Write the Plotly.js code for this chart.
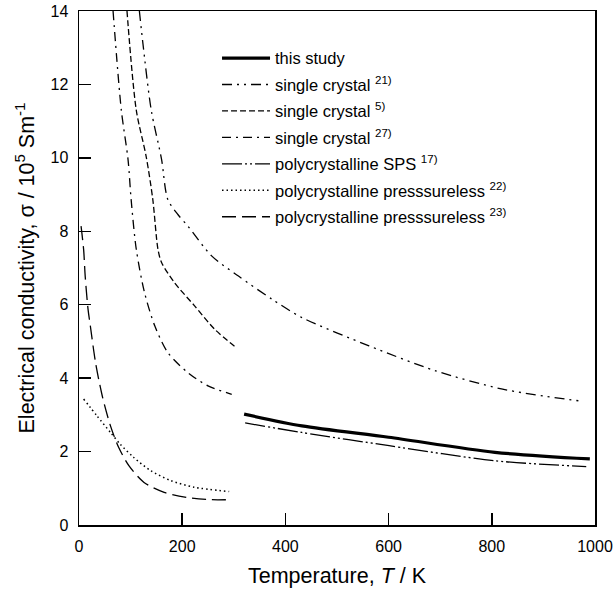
<!DOCTYPE html>
<html>
<head>
<meta charset="utf-8">
<script src="https://cdn.plot.ly/plotly-3.0.1.min.js"></script>
<style>html,body{margin:0;padding:0;background:#fff;}#chart{width:616px;height:599px;}</style>
</head>
<body>
<div id="chart"></div>
<script>
// this study
const thisT = [320, 432, 600, 806, 990];
const thisS = [3.02, 2.70, 2.39, 1.98, 1.80];
// single crystal 21)
const sc21T = [117, 124, 140, 160, 172, 192, 211, 257, 309, 374, 432, 562, 691, 821, 970];
const sc21S = [14.0, 13.1, 11.3, 9.96, 8.87, 8.45, 8.14, 7.33, 6.78, 6.15, 5.65, 4.88, 4.20, 3.70, 3.38];
// single crystal 5)
const sc5T = [93, 111, 130, 143, 153, 160, 185, 224, 263, 305];
const sc5S = [14.0, 11.3, 10.05, 8.87, 7.51, 7.15, 6.60, 5.97, 5.33, 4.83];
// single crystal 27)
const sc27T = [66, 82, 95, 101, 111, 127, 147, 172, 211, 250, 296];
const sc27S = [14.0, 11.3, 9.96, 8.87, 7.51, 6.33, 5.42, 4.70, 4.15, 3.79, 3.56];
// polycrystalline SPS 17)
const spsT = [322, 432, 601, 806, 983];
const spsS = [2.78, 2.52, 2.16, 1.75, 1.59];
// polycrystalline pressureless 22)
const pp22T = [9, 35, 61, 80, 106, 139, 178, 223, 291];
const pp22S = [3.43, 2.97, 2.52, 2.20, 1.84, 1.48, 1.21, 1.03, 0.91];
// polycrystalline pressureless 23)
const pp23T = [4, 9, 12, 17.5, 22, 32, 45, 61, 77, 97, 126, 165, 210, 255, 291];
const pp23S = [8.14, 7.5, 6.78, 5.88, 5.42, 4.43, 3.52, 2.70, 2.11, 1.61, 1.16, 0.89, 0.75, 0.69, 0.69];

const names = [
  'this study',
  'single crystal <sup>21)</sup>',
  'single crystal <sup>5)</sup>',
  'single crystal <sup>27)</sup>',
  'polycrystalline SPS <sup>17)</sup>',
  'polycrystalline presssureless <sup>22)</sup>',
  'polycrystalline presssureless <sup>23)</sup>'
];
const xs = [thisT, sc21T, sc5T, sc27T, spsT, pp22T, pp23T];
const ys = [thisS, sc21S, sc5S, sc27S, spsS, pp22S, pp23S];
const dashes = ['solid', '10px,5px,2px,5px,2px,5px', '6px,3px', '9px,5px,2px,5px', '20px,3px,2px,3px,2px,3px', '1.5px,3px', '14px,6px'];
const widths = [3.2, 1.3, 1.3, 1.3, 1.3, 1.5, 1.3];

const traces = names.map((n, i) => ({
  x: xs[i], y: ys[i], name: n, mode: 'lines', type: 'scatter',
  line: {color: '#000', width: widths[i], dash: dashes[i], shape: 'spline', smoothing: 0.8},
  legendgroup: 'g' + i, hoverinfo: 'skip'
}));

const layout = {
  width: 616, height: 599,
  margin: {l: 79, r: 21, t: 11, b: 74},
  paper_bgcolor: '#fff', plot_bgcolor: '#fff',
  font: {family: '"Liberation Sans", Arial, sans-serif', color: '#000', size: 16},
  showlegend: true,
  legend: {x: 0.2675, y: 0.942, xanchor: 'left', yanchor: 'top', bgcolor: 'rgba(0,0,0,0)',
           font: {size: 16.5}, tracegroupgap: 2, traceorder: 'grouped', itemwidth: 48},
  xaxis: {range: [0, 1000], tickvals: [0, 200, 400, 600, 800, 1000], ticks: 'inside', ticklen: 12, tickwidth: 1.5,
          tickcolor: '#000', showline: true, linewidth: 1.5, linecolor: '#000', mirror: true,
          showgrid: false, zeroline: false, tickfont: {size: 16}, ticklabelstandoff: 6,
          title: {text: 'Temperature, <i>T</i> / K', font: {size: 21.5}, standoff: 14}},
  yaxis: {range: [0, 14], tickvals: [0, 2, 4, 6, 8, 10, 12, 14], ticks: 'inside', ticklen: 12, tickwidth: 1.5,
          tickcolor: '#000', showline: true, linewidth: 1.5, linecolor: '#000', mirror: true,
          showgrid: false, zeroline: false, tickfont: {size: 16}, ticklabelstandoff: 6,
          title: {text: 'Electrical conductivity, σ / 10<sup>5</sup> Sm<sup>-1</sup>', font: {size: 21.5}, standoff: 10}}
};

Plotly.newPlot('chart', traces, layout, {displayModeBar: false, staticPlot: true});
</script>
</body>
</html>
